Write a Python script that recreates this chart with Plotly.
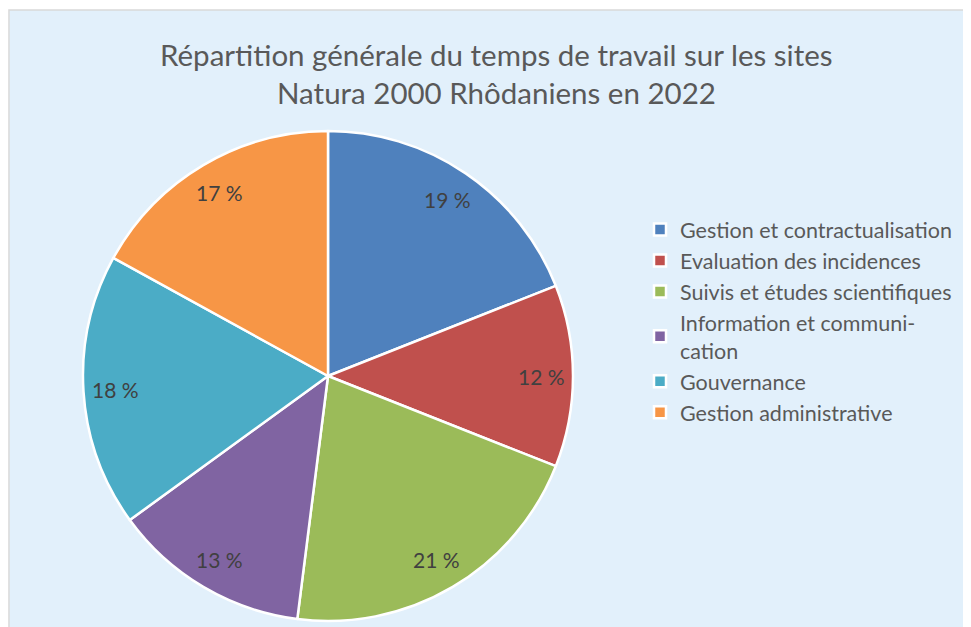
import math
import plotly.graph_objects as go

categories = [
    "Gestion et contractualisation",
    "Evaluation des incidences",
    "Suivis et études scientifiques",
    "Information et communi-<br>cation",
    "Gouvernance",
    "Gestion administrative",
]
values = [19, 12, 21, 13, 18, 17]
colors = ["#4F81BD", "#C0504D", "#9BBB59", "#8064A2", "#4BACC6", "#F79646"]

FONT = "Lato"
W, H = 963, 619  # page body has an 8px default margin

def px_x(x):
    return x / W

def px_y(y):
    return 1 - y / H

# pie geometry (pixels within the figure)
CX, CY, R = 320, 368, 245
LABEL_R = 0.87

fig = go.Figure(go.Pie(
    labels=categories,
    values=values,
    sort=False,
    direction="clockwise",
    rotation=0,
    marker=dict(colors=colors, line=dict(color="white", width=2.5)),
    textinfo="none",
    domain=dict(x=[px_x(CX - R), px_x(CX + R)], y=[px_y(CY + R), px_y(CY - R)]),
    hoverinfo="label+value",
))

# percentage labels placed near the outer edge of each slice (Excel "inside end")
total = sum(values)
annotations = []
cum = 0
for v in values:
    mid = (cum + v / 2) / total * 2 * math.pi
    cum += v
    lx = CX + R * LABEL_R * math.sin(mid)
    ly = CY - R * LABEL_R * math.cos(mid)
    annotations.append(dict(
        x=px_x(lx), y=px_y(ly), xref="paper", yref="paper",
        text=f"{v} %", showarrow=False, xanchor="center", yanchor="middle",
        font=dict(family=FONT, size=21, color="#404040"),
    ))

title_lines = [
    "Répartition générale du temps de travail sur les sites",
    "Natura 2000 Rhôdaniens en 2022",
]
for line, yy in zip(title_lines, [46, 85]):
    annotations.append(dict(
        x=px_x(488), y=px_y(yy), xref="paper", yref="paper",
        text=line, showarrow=False, xanchor="center", yanchor="middle",
        font=dict(family=FONT, size=29.5, color="#595959"),
    ))

fig.update_layout(
    width=W, height=H,
    margin=dict(l=0, r=0, t=0, b=0),
    paper_bgcolor="white",
    plot_bgcolor="white",
    shapes=[dict(type="rect", xref="paper", yref="paper", x0=0.001, x1=1.01, y0=-0.01, y1=px_y(2),
                 fillcolor="#E2F0FB", line=dict(color="#D9D9D9", width=1.5), layer="below")],
    annotations=annotations,
    legend=dict(
        x=px_x(632), y=px_y(201), xanchor="left", yanchor="top",
        font=dict(family=FONT, size=21.5, color="#595959"),
        bgcolor="rgba(0,0,0,0)",
    ),
)

fig.write_html("out.html")
